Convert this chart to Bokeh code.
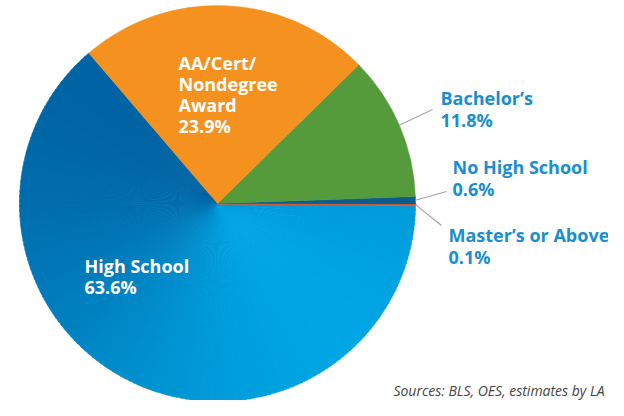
import numpy as np
from bokeh.plotting import figure
from bokeh.models import Range1d, ColumnDataSource
from bokeh.core.properties import value
from bokeh.embed import file_html
from bokeh.resources import INLINE

# ---- data (counter-clockwise order, starting just below 3 o'clock) ----
categories = ["Master’s or Above", "No High School", "Bachelor’s",
              "AA/Cert/Nondegree Award", "High School"]
label_lines = [["Master’s or Above"], ["No High School"], ["Bachelor’s"],
               ["AA/Cert/", "Nondegree", "Award"], ["High School"]]
shares = [0.1, 0.6, 11.8, 23.9, 63.6]
slice_colors = ["#EA5A2B", "#0D5B8C", "#559A3B", "#F5921F", "#0088CC"]
source_note = "Sources: BLS, OES, estimates by LA"

# ---- style / layout (pixel positions measured from top-left) ----
W, H = 608, 400
CX, CY_TOP, R = 217, 203, 198
START = np.deg2rad(-0.5)
LABEL_BLUE = "#1A8ED0"
FONT = value("Open Sans")
FS = "18px"
LINE_H = 22
label_pos = [(448, 234), (452, 166), (440, 97), (178, 62), (84, 265)]
label_col = [LABEL_BLUE, LABEL_BLUE, LABEL_BLUE, "white", "white"]
leader_end = [(441, 225), (446, 191), (432, 109), None, None]

p = figure(width=W, height=H, x_range=Range1d(0, W), y_range=Range1d(0, H),
           output_backend="svg", toolbar_location=None, min_border=0)
p.axis.visible = False
p.grid.visible = False
p.outline_line_color = None
p.background_fill_color = "white"
p.border_fill_color = "white"

def Y(y):  # top-based pixel -> data
    return H - y

CY = Y(CY_TOP)
frac = np.array(shares) / sum(shares)
ends = START + 2 * np.pi * np.cumsum(frac)
starts = ends - 2 * np.pi * frac
mids = (starts + ends) / 2

# High School slice with a diagonal (top-left dark -> bottom-right light) shading
hs = 4
n = 160
a = np.linspace(starts[hs], ends[hs], n + 1)
am = (a[:-1] + a[1:]) / 2
t = 0.5 + 0.42 * (np.cos(am) - np.sin(am)) / np.sqrt(2)
dark = np.array([0x00, 0x5E, 0x9E])
light = np.array([0x00, 0xAB, 0xE9])
cols = ["#%02x%02x%02x" % tuple(int(round(c)) for c in dark + (light - dark) * tt) for tt in t]
p.wedge(x=CX, y=CY, radius=R, start_angle=a[:-1], end_angle=a[1:] + 0.004,
        fill_color=cols, line_color=cols, line_width=0.6)

for i in range(4):
    p.wedge(x=CX, y=CY, radius=R, start_angle=starts[i], end_angle=ends[i],
            fill_color=slice_colors[i], line_color=slice_colors[i],
            line_width=2 if i == 0 else 0.5)

# leader lines
for i, e in enumerate(leader_end):
    if e is None:
        continue
    sx = CX + R * np.cos(mids[i])
    sy = CY + R * np.sin(mids[i])
    p.line([sx, e[0]], [sy, Y(e[1])], line_color="#A5A5A5", line_width=1.2)

# labels
tx, ty, tt_, tc = [], [], [], []
for i, lines in enumerate(label_lines):
    lines = lines + [f"{shares[i]:.1f}%"]
    x0, y0 = label_pos[i]
    for k, ln in enumerate(lines):
        tx.append(x0)
        ty.append(Y(y0 + k * (LINE_H if i < 3 else 21)))
        tt_.append(ln)
        tc.append(label_col[i])
src = ColumnDataSource(dict(x=tx, y=ty, text=tt_, color=tc))
p.text(x="x", y="y", text="text", text_color="color", source=src,
       text_font=FONT, text_font_style="bold", text_font_size=FS,
       text_baseline="alphabetic", text_align="left")

p.text(x=[604], y=[Y(390)], text=[source_note], text_color="#444444",
       text_font=FONT, text_font_style="italic", text_font_size="14px",
       text_baseline="alphabetic", text_align="right")

open("out.html", "w").write(file_html(p, INLINE))
